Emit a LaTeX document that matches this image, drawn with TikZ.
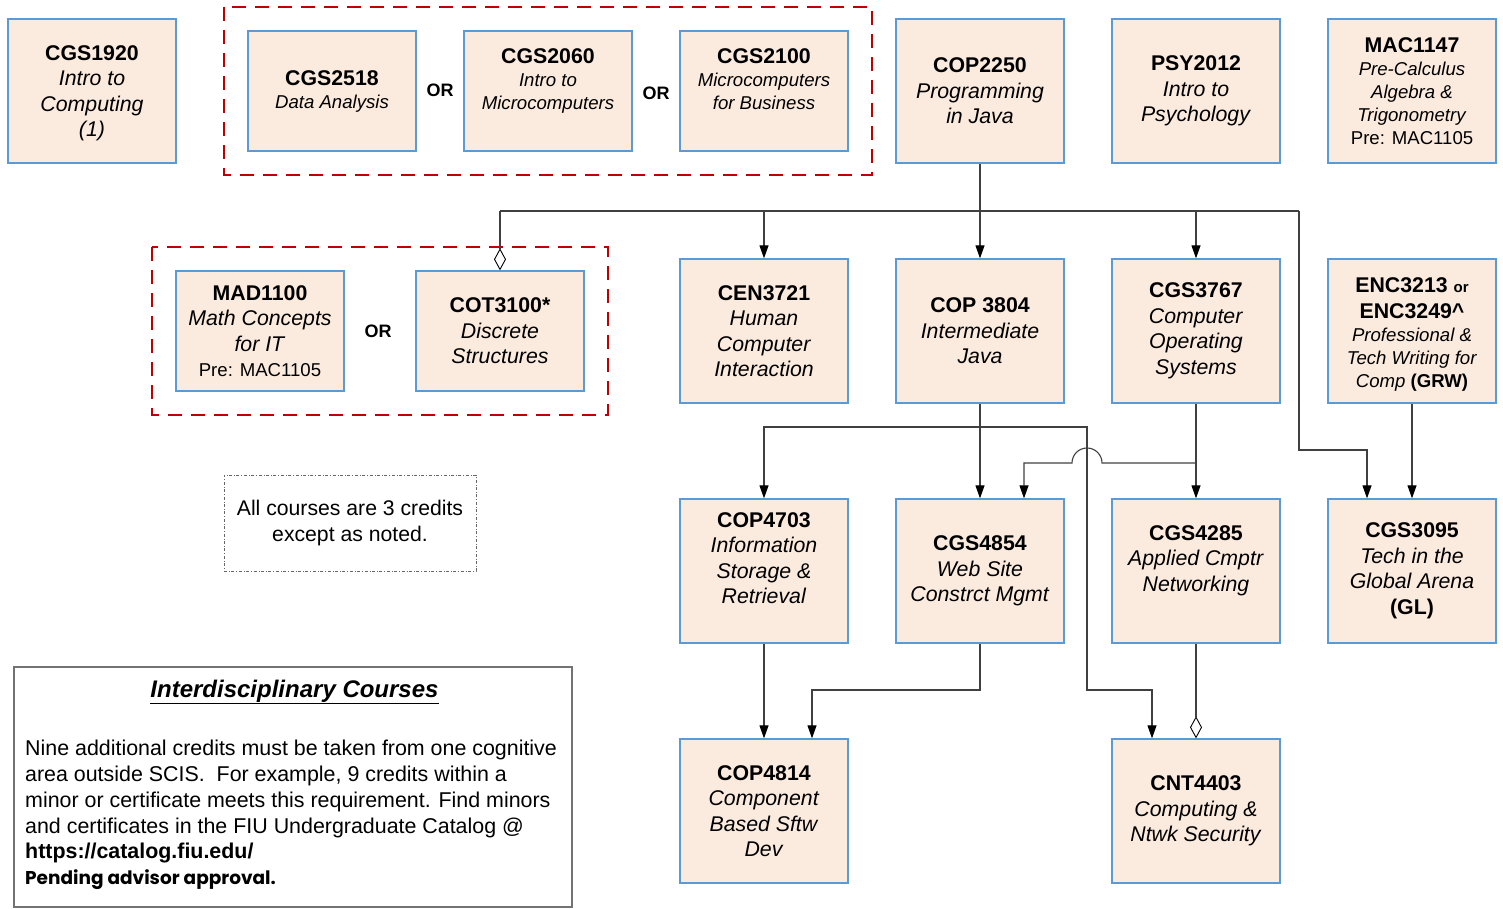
\documentclass[tikz,border=0pt]{standalone}
\usepackage{fontspec}
\setmainfont{Liberation Sans}
\newfontfamily\popfont{Poppins}
\usetikzlibrary{arrows.meta,calc}
\definecolor{boxfill}{HTML}{FBEBDE}
\definecolor{boxline}{HTML}{5B9BD5}
\definecolor{grpred}{HTML}{C00000}
\definecolor{lncol}{HTML}{404040}
\newcommand{\Fbig}{\fontsize{21.3}{25.5}\selectfont}
\newcommand{\Fsm}{\fontsize{18.6}{23}\selectfont}
\newcommand{\Ftitle}[1]{{\fontsize{21.3}{25.5}\selectfont\bfseries #1}}
\begin{document}
\begin{tikzpicture}[x=1pt,y=-1pt,
 course/.style={draw=boxline,fill=boxfill,line width=1.3pt,minimum width=168pt,minimum height=144pt,inner sep=0pt,align=center,font=\Fbig},
 shortc/.style={course,minimum height=120pt},
 smallt/.style={font=\Fsm},
 conn/.style={draw=lncol,line width=1.1pt},
 arr/.style={conn,-{Triangle[length=13pt,width=9pt,black]}},
 dia/.style={conn,-{Diamond[open,length=22pt,width=12pt,black,line width=0.9pt]}},
 grp/.style={draw=grpred,line width=2.5pt,dash pattern=on 14pt off 9pt},
 ornode/.style={font=\fontsize{18}{20}\selectfont\bfseries}
]
\useasboundingbox (0,0) rectangle (1503,909);

% groups
\draw[grp] (224,7) rectangle (872,175);
\draw[grp] (152,247) rectangle (608,415);

% row 1
\node[course] (cgs1920) at (92,91) {\rule{0pt}{19.5pt}\textbf{CGS1920}\\\textit{Intro to}\\\textit{Computing}\\\textit{(1)}};
\node[shortc,smallt] (cgs2518) at (332,91) {\Ftitle{CGS2518}\\\textit{Data Analysis}};
\node[shortc,smallt] (cgs2060) at (548,91) {\Ftitle{CGS2060}\\\textit{Intro to}\\\textit{Microcomputers}\\\mbox{}};
\node[shortc,smallt] (cgs2100) at (764,91) {\Ftitle{CGS2100}\\\textit{Microcomputers}\\\textit{for Business}\\\mbox{}};
\node[course] (cop2250) at (980,91) {\textbf{COP2250}\\\textit{Programming}\\\textit{in Java}};
\node[course] (psy2012) at (1196,91) {\textbf{PSY2012}\\\textit{Intro to}\\\textit{Psychology}};
\node[course,smallt] (mac1147) at (1412,91) {\Ftitle{MAC1147}\\\textit{Pre-Calculus}\\\textit{Algebra \&}\\\textit{Trigonometry}\\Pre: MAC1105};

\node[ornode] (or1) at (440,90) {OR};
\node[ornode] (or2) at (656,93) {OR};

% row 2
\node[shortc] (mad1100) at (260,331) {\textbf{MAD1100}\\\textit{Math Concepts}\\\textit{for IT}\\{\Fsm Pre: MAC1105}};
\node[shortc] (cot3100) at (500,331) {\textbf{COT3100*}\\\textit{Discrete}\\\textit{Structures}};
\node[ornode] (or3) at (378,331) {OR};
\node[course] (cen3721) at (764,331) {\textbf{CEN3721}\\\textit{Human}\\\textit{Computer}\\\textit{Interaction}};
\node[course] (cop3804) at (980,331) {\textbf{COP 3804}\\\textit{Intermediate}\\\textit{Java}};
\node[course] (cgs3767) at (1196,331) {\textbf{CGS3767}\\\textit{Computer}\\\textit{Operating}\\\textit{Systems}};
\node[course,smallt] (enc) at (1412,331) {\rule{0pt}{21.5pt}\Ftitle{ENC3213 {\fontsize{15}{17}\selectfont or}}\\[3pt]\Ftitle{ENC3249\textasciicircum}\\\textit{Professional \&}\\\textit{Tech Writing for}\\\textit{Comp} \textbf{(GRW)}};

% row 3
\node[course] (cop4703) at (764,571) {\textbf{COP4703}\\\textit{Information}\\\textit{Storage \&}\\\textit{Retrieval}\\\mbox{}};
\node[course] (cgs4854) at (980,571) {\textbf{CGS4854}\\\textit{Web Site}\\\textit{Constrct Mgmt}};
\node[course] (cgs4285) at (1196,571) {\textbf{CGS4285}\\\textit{Applied Cmptr}\\\textit{Networking}\\\mbox{}};
\node[course] (cgs3095) at (1412,571) {\textbf{CGS3095}\\\textit{Tech in the}\\\textit{Global Arena}\\\textbf{(GL)}};

% row 4
\node[course] (cop4814) at (764,811) {\textbf{COP4814}\\\textit{Component}\\\textit{Based Sftw}\\\textit{Dev}};
\node[course] (cnt4403) at (1196,811) {\textbf{CNT4403}\\\textit{Computing \&}\\\textit{Ntwk Security}};

% note
\node[draw=black!60,dash dot,line width=0.8pt,minimum width=252pt,minimum height=96pt,align=center,font=\fontsize{21.2}{26}\selectfont] (note) at (350,523) {All courses are 3 credits\\except as noted.};

% interdisciplinary
\draw[draw=black!55,line width=1.3pt] (14,667) rectangle (572,907);
\node[font=\fontsize{24}{28}\selectfont] (intertitle) at (294.5,692) {\underline{\textbf{\textit{Interdisciplinary Courses}}}};
\node[anchor=north west,align=left,inner sep=0pt,font=\fontsize{21.4}{25.8}\selectfont] (interbody) at (25,740) {Nine additional credits must be taken from one cognitive\\area outside SCIS.\ \ For example, 9 credits within a\\minor or certificate meets this requirement. Find minors\\and certificates in the FIU Undergraduate Catalog @\\\textbf{https://catalog.fiu.edu/}\\{\popfont\bfseries\fontsize{18.5}{20}\selectfont Pending advisor approval.}};

% connectors
\coordinate (busL) at (500,211);
\coordinate (busR) at (1299,211);
\coordinate (j1) at (980,427);
\coordinate (j2) at (1196,463);
\coordinate (k1) at (1299,450);
\coordinate (k2) at (1087,427);
\coordinate (k3) at (1087,690);
\coordinate (k4) at (980,690);
\draw[conn] (cop2250.south) -- (cop2250.south |- busL);
\draw[conn] (busL) -- (busR);
\draw[dia] (busL) -- (cot3100.north);
\draw[arr] (cen3721.north |- busL) -- (cen3721.north);
\draw[arr] (cop3804.north |- busL) -- (cop3804.north);
\draw[arr] (cgs3767.north |- busL) -- (cgs3767.north);
\draw[arr] (busR) -- (k1) -| ($(cgs3095.north)+(-45,0)$);
\draw[arr] (enc.south) -- (cgs3095.north);
\draw[arr] (cop3804.south) -- (cgs4854.north);
\draw[arr] (j1) -| (cop4703.north);
\draw[arr] (j1) -- (k2) -- (k3) -| ($(cnt4403.north)+(-44,0)$);
\draw[arr] (cgs3767.south) -- (cgs4285.north);
\draw[arr] (j2) -- (1102,463) arc[start angle=0,end angle=180,radius=15pt] -| ($(cgs4854.north)+(44,0)$);
\draw[arr] (cop4703.south) -- (cop4814.north);
\draw[arr] (cgs4854.south) -- (k4) -| ($(cop4814.north)+(48,0)$);
\draw[dia] (cgs4285.south) -- (cnt4403.north);
\end{tikzpicture}
\end{document}
